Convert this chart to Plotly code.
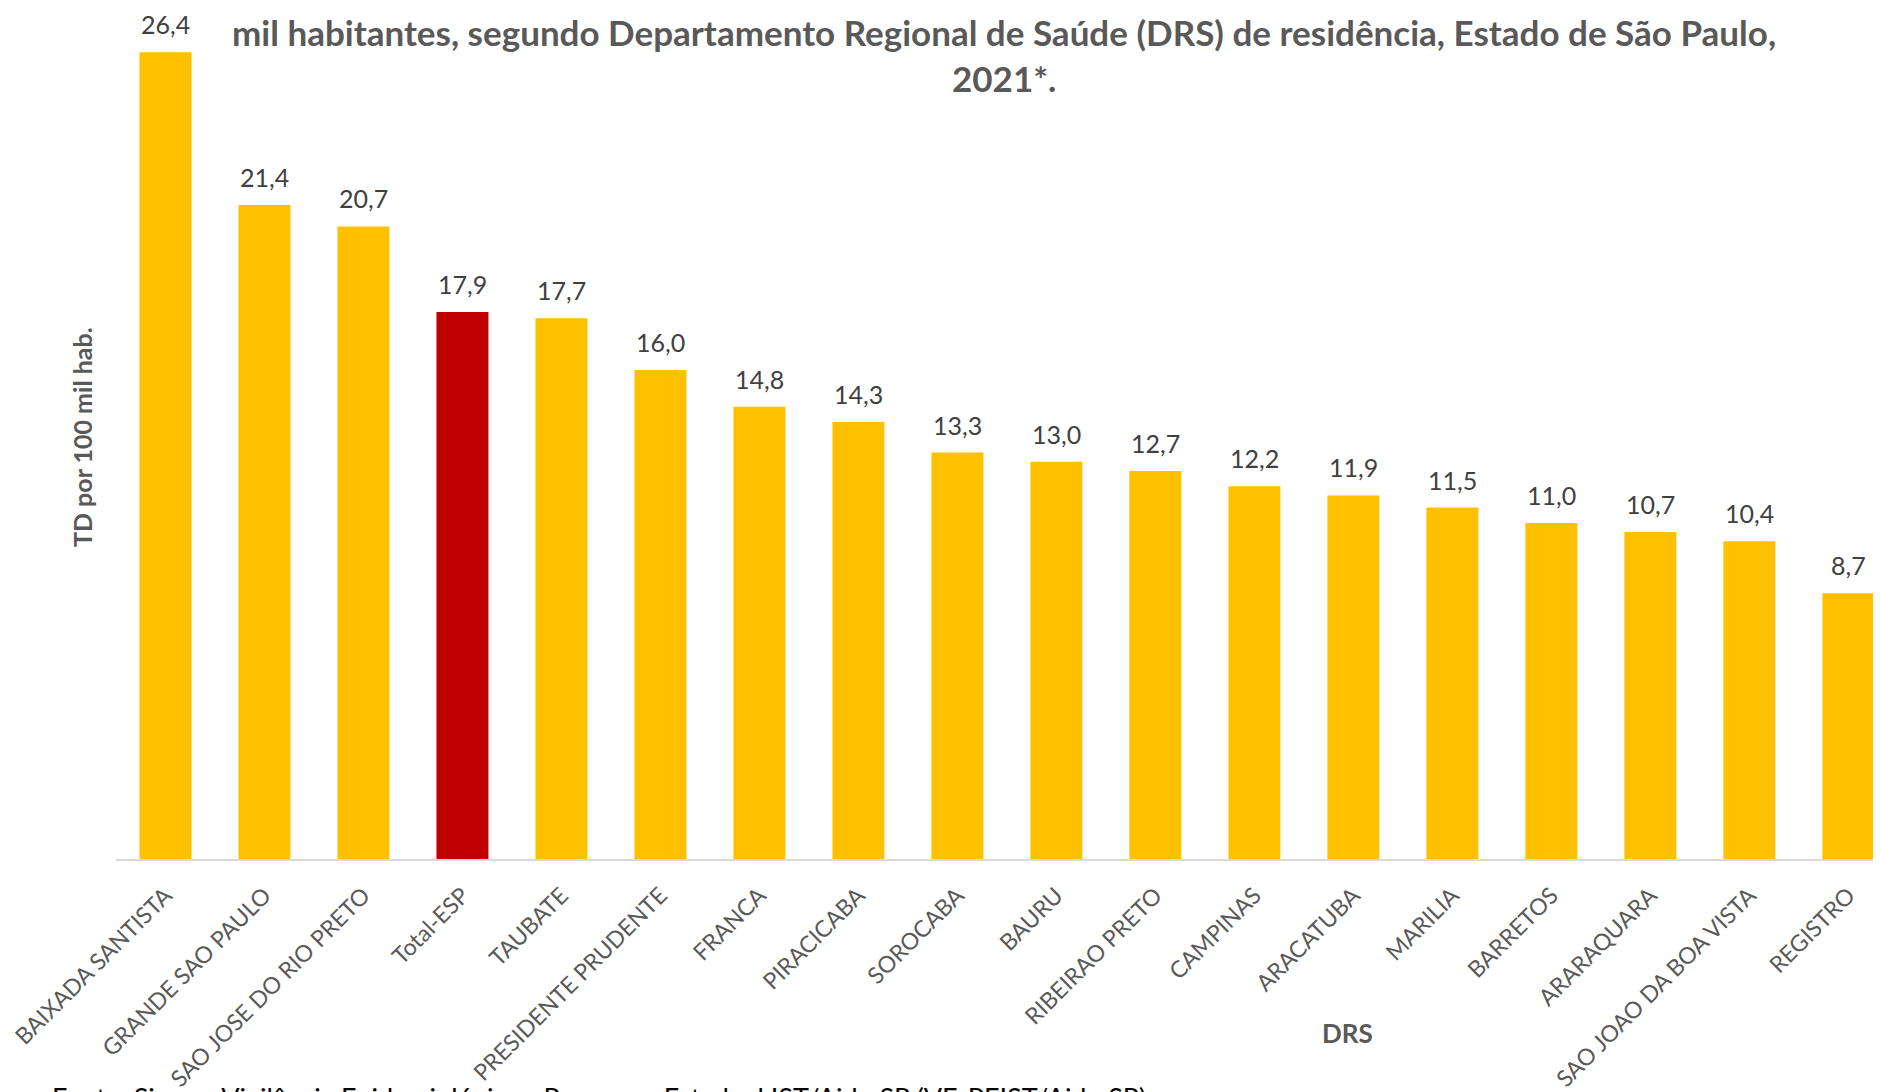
import plotly.graph_objects as go

categories = ["BAIXADA SANTISTA", "GRANDE SAO PAULO", "SAO JOSE DO RIO PRETO", "Total-ESP",
              "TAUBATE", "PRESIDENTE PRUDENTE", "FRANCA", "PIRACICABA", "SOROCABA", "BAURU",
              "RIBEIRAO PRETO", "CAMPINAS", "ARACATUBA", "MARILIA", "BARRETOS", "ARARAQUARA",
              "SAO JOAO DA BOA VISTA", "REGISTRO"]
values = [26.4, 21.4, 20.7, 17.9, 17.7, 16.0, 14.8, 14.3, 13.3, 13.0, 12.7, 12.2, 11.9, 11.5,
          11.0, 10.7, 10.4, 8.7]
highlight = "Total-ESP"

YELLOW = "#FFC000"
RED = "#C00000"
FONT = "Lato"

OFF = 8  # browser body margin
W, H = 1881 - OFF, 1092 - OFF
ML = 116 - OFF
BASE = 861 - OFF          # baseline in figure px
MB = H - BASE
PLOT_W = W - ML
PLOT_H = BASE

colors = [RED if c == highlight else YELLOW for c in categories]
labels = [f"{v:.1f}".replace(".", ",") for v in values]

fig = go.Figure(go.Bar(
    x=categories, y=values, marker=dict(color=colors, line=dict(width=0)),
    hoverinfo="skip",
))

annotations = []
for c, v, t in zip(categories, values, labels):
    annotations.append(dict(x=c, y=v, xref="x", yref="y", text=t, showarrow=False,
                            yanchor="bottom", yshift=11,
                            font=dict(family=FONT, size=25, color="#404040")))

# page pixel -> paper coords
def py(p):
    return (PLOT_H - (p - OFF)) / PLOT_H

def px(p):
    return ((p - OFF) - ML) / PLOT_W

annotations.append(dict(xref="paper", yref="paper", x=px(1004), y=py(32),
                        text="<b>mil habitantes, segundo Departamento Regional de Saúde (DRS) de residência, Estado de São Paulo,</b>",
                        showarrow=False, xanchor="center", yanchor="middle",
                        font=dict(family=FONT, size=35, color="#595959")))
annotations.append(dict(xref="paper", yref="paper", x=px(1004), y=py(78),
                        text="<b>2021*.</b>", showarrow=False, xanchor="center", yanchor="middle",
                        font=dict(family=FONT, size=35, color="#595959")))
annotations.append(dict(xref="paper", yref="paper", x=px(82), y=py(438),
                        text="<b>TD por 100 mil hab.</b>", textangle=-90, showarrow=False,
                        xanchor="center", yanchor="middle",
                        font=dict(family=FONT, size=25, color="#595959")))
annotations.append(dict(xref="paper", yref="paper", x=px(1347), y=py(1035),
                        text="<b>DRS</b>", showarrow=False, xanchor="center", yanchor="middle",
                        font=dict(family=FONT, size=26, color="#595959")))
annotations.append(dict(xref="paper", yref="paper", x=px(50), y=py(1082),
                        text="Fonte: Sinan - Vigilância Epidemiológica - Programa Estadual IST/Aids-SP (VE-PEIST/Aids-SP).",
                        showarrow=False, xanchor="left", yanchor="top",
                        font=dict(family=FONT, size=27, color="#000000")))

fig.update_layout(
    width=W, height=H,
    margin=dict(l=ML, r=0, t=0, b=MB, pad=0),
    paper_bgcolor="white", plot_bgcolor="white",
    bargap=0.475,
    showlegend=False,
    annotations=annotations,
    xaxis=dict(range=[-0.5, 17.33], showline=True, linecolor="#D9D9D9", linewidth=2,
               ticks="", tickangle=-45, ticklabelstandoff=12,
               tickfont=dict(family=FONT, size=23, color="#595959"),
               showgrid=False, zeroline=False, fixedrange=True),
    yaxis=dict(range=[0, 27.85], showticklabels=False, showgrid=False, zeroline=False,
               showline=False, ticks="", fixedrange=True),
)

fig.write_html("out.html", config={"displayModeBar": False})
